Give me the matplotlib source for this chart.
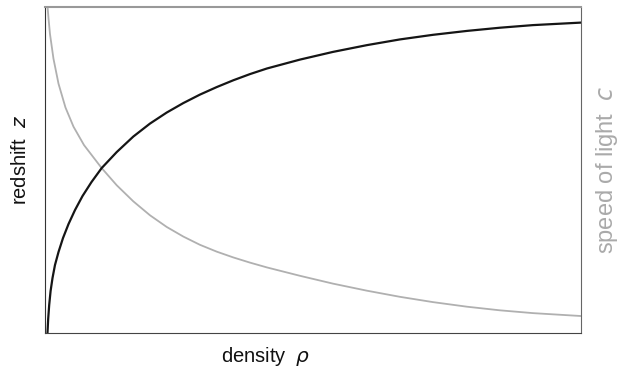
import matplotlib
matplotlib.use("Agg")
import matplotlib.pyplot as plt

plt.rcParams['font.family'] = ['Liberation Sans', 'DejaVu Sans']

# density (0-100, arbitrary units) and the two curves
rho_z = [0.37, 0.50, 0.69, 0.95, 1.31, 1.77, 2.43, 3.27, 4.30, 5.51, 6.91,
         8.59, 10.49, 13.30, 16.40, 19.51, 22.63, 25.73, 28.85, 31.97, 35.07,
         38.19, 41.36, 47.53, 53.69, 60.04, 66.20, 72.36, 78.71, 84.87, 91.04, 100]
redshift = [0, 4.29, 8.59, 12.88, 16.87, 20.86, 24.85, 29.14, 33.44, 37.73,
            42.02, 46.32, 50.61, 55.52, 60.28, 64.26, 67.64, 70.55, 73.16, 75.46,
            77.55, 79.45, 81.17, 83.90, 86.26, 88.34, 90.09, 91.50, 92.70, 93.68,
            94.48, 95.25]

rho_c = [0.39, 0.56, 0.84, 1.49, 2.43, 3.73, 5.23, 7.19, 10.49, 13.30, 16.40,
         19.51, 22.63, 25.73, 28.85, 31.97, 35.07, 38.19, 41.36, 47.53, 53.69,
         60.04, 66.20, 72.36, 78.71, 84.87, 91.04, 100]
speed = [100, 96.63, 91.72, 84.17, 76.50, 69.20, 63.31, 57.67, 50.61, 45.34,
         40.40, 36.13, 32.55, 29.60, 27.06, 24.97, 23.19, 21.60, 20.12, 17.55,
         15.15, 12.98, 11.10, 9.48, 8.07, 6.96, 6.10, 5.21]

fig = plt.figure(figsize=(6.19, 3.75), dpi=100)
ax = fig.add_axes([0.0735, 0.112, 0.865, 0.869])

ax.plot(rho_c, speed, color='#b0b0b0', lw=1.3, solid_joinstyle='round')
ax.plot(rho_z, redshift, color='#151515', lw=1.6, solid_joinstyle='round')

ax.set_xlim(0, 100)
ax.set_ylim(0, 100)
ax.set_xticks([])
ax.set_yticks([])

ax.spines['left'].set_color('#333333')
ax.spines['bottom'].set_color('#444444')
ax.spines['right'].set_color('#666666')
ax.spines['top'].set_color('#999999')
ax.spines['top'].set_linewidth(1.5)

fig.text(266 / 619, 1 - 356 / 375, 'density  $\\rho$', ha='center', va='center',
         fontsize=14.5, color='#111111')
fig.text(21 / 619, 1 - 160 / 375, 'redshift  $z$', ha='center', va='center',
         rotation=90, fontsize=14.5, color='#111111')
fig.text(607 / 619, 1 - 170 / 375, 'speed of light  $c$', ha='center', va='center',
         rotation=90, fontsize=17, color='#aaaaaa')

fig.savefig('out.png', dpi=100)
